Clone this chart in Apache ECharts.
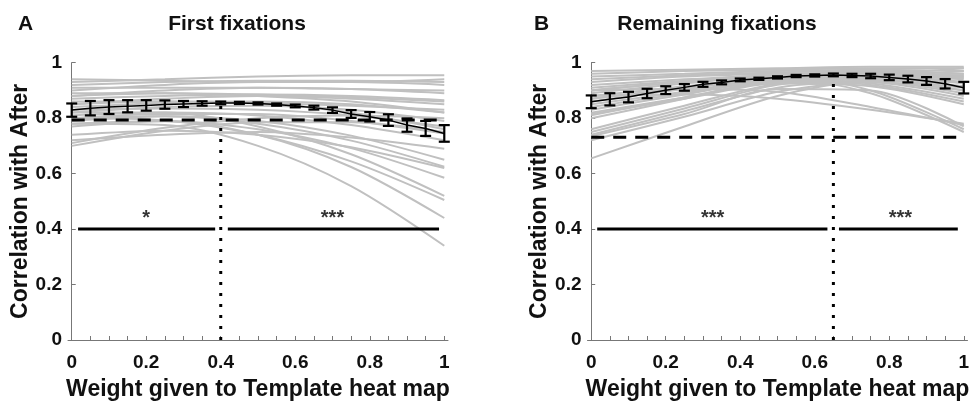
<!DOCTYPE html>
<html><head><meta charset="utf-8">
<script src="https://cdn.jsdelivr.net/npm/echarts@6/dist/echarts.min.js"></script>
<style>html,body{margin:0;padding:0;background:#fff}#c{width:973px;height:403px}</style>
</head><body><div id="c"></div>
<script>
// ---------- data ----------
const curveX = [0, 0.25, 0.5, 0.75, 1];
const grayA = [
  [0.93, 0.94, 0.95, 0.955, 0.955],
  [0.94, 0.935, 0.93, 0.93, 0.94],
  [0.92, 0.93, 0.935, 0.935, 0.93],
  [0.90, 0.92, 0.93, 0.93, 0.92],
  [0.91, 0.91, 0.91, 0.905, 0.90],
  [0.88, 0.90, 0.91, 0.905, 0.89],
  [0.89, 0.89, 0.885, 0.875, 0.86],
  [0.87, 0.88, 0.885, 0.88, 0.865],
  [0.85, 0.87, 0.88, 0.87, 0.85],
  [0.86, 0.86, 0.855, 0.845, 0.83],
  [0.84, 0.855, 0.86, 0.85, 0.82],
  [0.82, 0.84, 0.845, 0.83, 0.79],
  [0.83, 0.835, 0.83, 0.81, 0.77],
  [0.80, 0.815, 0.815, 0.79, 0.745],
  [0.81, 0.82, 0.81, 0.775, 0.72],
  [0.79, 0.807, 0.79, 0.737, 0.65],
  [0.80, 0.807, 0.78, 0.719, 0.625],
  [0.78, 0.79, 0.76, 0.692, 0.585],
  [0.70, 0.755, 0.785, 0.785, 0.75],
  [0.71, 0.765, 0.80, 0.81, 0.80],
  [0.72, 0.74, 0.75, 0.73, 0.69],
  [0.74, 0.755, 0.74, 0.695, 0.62],
  [0.82, 0.82, 0.77, 0.67, 0.52],
  [0.80, 0.792, 0.74, 0.644, 0.505],
  [0.77, 0.789, 0.74, 0.624, 0.44],
  [0.78, 0.775, 0.70, 0.555, 0.34],
  [0.85, 0.86, 0.855, 0.82, 0.76],
  [0.88, 0.89, 0.88, 0.86, 0.82]
];
const grayB = [
  [0.97, 0.975, 0.98, 0.985, 0.985],
  [0.96, 0.97, 0.975, 0.98, 0.98],
  [0.95, 0.96, 0.97, 0.975, 0.97],
  [0.94, 0.955, 0.965, 0.97, 0.96],
  [0.93, 0.95, 0.96, 0.965, 0.95],
  [0.92, 0.94, 0.955, 0.96, 0.945],
  [0.91, 0.935, 0.955, 0.955, 0.94],
  [0.90, 0.93, 0.95, 0.955, 0.93],
  [0.89, 0.925, 0.95, 0.95, 0.925],
  [0.88, 0.915, 0.945, 0.945, 0.915],
  [0.87, 0.91, 0.945, 0.94, 0.91],
  [0.86, 0.905, 0.94, 0.94, 0.90],
  [0.85, 0.895, 0.94, 0.935, 0.89],
  [0.84, 0.89, 0.935, 0.93, 0.88],
  [0.83, 0.885, 0.935, 0.925, 0.87],
  [0.82, 0.875, 0.93, 0.92, 0.86],
  [0.815, 0.87, 0.925, 0.915, 0.85],
  [0.90, 0.905, 0.895, 0.84, 0.775],
  [0.88, 0.885, 0.87, 0.83, 0.78],
  [0.90, 0.93, 0.95, 0.90, 0.76],
  [0.87, 0.91, 0.945, 0.89, 0.75],
  [0.76, 0.845, 0.925, 0.95, 0.96],
  [0.75, 0.835, 0.92, 0.94, 0.93],
  [0.74, 0.825, 0.91, 0.93, 0.90],
  [0.735, 0.815, 0.905, 0.90, 0.77],
  [0.72, 0.805, 0.895, 0.935, 0.95],
  [0.655, 0.77, 0.88, 0.94, 0.955],
  [0.80, 0.87, 0.94, 0.95, 0.97],
  [0.81, 0.875, 0.935, 0.955, 0.98]
];
const meanX = [0,0.05,0.1,0.15,0.2,0.25,0.3,0.35,0.4,0.45,0.5,0.55,0.6,0.65,0.7,0.75,0.8,0.85,0.9,0.95,1];
const meanA = [0.829,0.836,0.840,0.843,0.846,0.849,0.851,0.853,0.855,0.855,0.853,0.849,0.844,0.838,0.829,0.815,0.805,0.793,0.775,0.763,0.745];
const errA  = [0.024,0.026,0.025,0.022,0.019,0.015,0.011,0.008,0.005,0.004,0.004,0.004,0.005,0.007,0.010,0.014,0.017,0.021,0.024,0.027,0.030];
const meanB = [0.859,0.868,0.876,0.889,0.901,0.911,0.922,0.929,0.938,0.942,0.947,0.952,0.954,0.956,0.954,0.952,0.947,0.941,0.934,0.924,0.910];
const errB  = [0.023,0.022,0.019,0.017,0.014,0.012,0.009,0.007,0.005,0.004,0.004,0.004,0.004,0.005,0.006,0.008,0.010,0.012,0.014,0.017,0.021];
const baselineA = 0.793;
const baselineB = 0.731;
const peakA = [0.4, 0.855];
const peakB = [0.65, 0.956];
const sigY = 0.4;
const sigA = [[0.017, 0.385], [0.419, 0.986]];
const sigB = [[0.016, 0.634], [0.665, 0.984]];
const starY = 0.44;
const starsA = [[0.2, '*'], [0.70, '***']];
const starsB = [[0.326, '***'], [0.83, '***']];
const xLabelTicks = [0, 0.2, 0.4, 0.6, 0.8, 1];
const xMinorTicks = [0,0.05,0.1,0.15,0.2,0.25,0.3,0.35,0.4,0.45,0.5,0.55,0.6,0.65,0.7,0.75,0.8,0.85,0.9,0.95,1];
const panelTitles = ['First fixations', 'Remaining fixations'];
const panelLetters = ['A', 'B'];
const xName = 'Weight given to Template heat map';
const yName = 'Correlation with After';

// ---------- chart ----------
const FONT = 'Liberation Sans, Arial, sans-serif';
const AX = '#777777';
const TXT = '#111111';
const panels = [
  {gray: grayA, mean: meanA, err: errA, base: baselineA, peak: peakA, sig: sigA, stars: starsA},
  {gray: grayB, mean: meanB, err: errB, base: baselineB, peak: peakB, sig: sigB, stars: starsB}
];
const gridLefts = [68, 587.5];

const grids = gridLefts.map(l => ({left: l, top: 62.7, width: 380, height: 277.3,
  containLabel: false, outerBoundsMode: 'none'}));
const xAxes = gridLefts.map((l, i) => ({
  type: 'value', gridIndex: i, min: -0.01, max: 1.01,
  axisLine: {show: true, lineStyle: {color: AX, width: 1}},
  axisTick: {show: true, inside: true, length: 4, customValues: xMinorTicks, lineStyle: {color: AX}},
  axisLabel: {customValues: xLabelTicks, fontSize: 19, fontWeight: 'bold', color: TXT, fontFamily: FONT, margin: 13},
  splitLine: {show: false},
  name: xName, nameLocation: 'middle', nameGap: 38,
  nameTextStyle: {fontSize: 23, fontWeight: 'bold', color: TXT, fontFamily: FONT}
}));
const yAxes = gridLefts.map((l, i) => ({
  type: 'value', gridIndex: i, min: 0, max: 1, interval: 0.2,
  axisLine: {show: true, lineStyle: {color: AX, width: 1}},
  axisTick: {show: true, inside: true, length: 4, lineStyle: {color: AX}},
  axisLabel: {fontSize: 19, fontWeight: 'bold', color: TXT, fontFamily: FONT, margin: 6},
  splitLine: {show: false},
  name: yName, nameLocation: 'middle', nameGap: 36, nameRotate: 90,
  nameTextStyle: {fontSize: 23, fontWeight: 'bold', color: TXT, fontFamily: FONT}
}));

const series = [];
panels.forEach((p, i) => {
  p.gray.forEach(vals => series.push({
    type: 'line', xAxisIndex: i, yAxisIndex: i, silent: true, z: 1,
    data: curveX.map((x, k) => [x, vals[k]]), smooth: 0.3,
    symbol: 'none', lineStyle: {color: '#c0c0c0', width: 2}
  }));
  series.push({
    type: 'line', xAxisIndex: i, yAxisIndex: i, silent: true, z: 2, symbol: 'none',
    data: [[0, p.base], [1, p.base]],
    lineStyle: {color: '#000', width: 3, type: [13, 9], cap: 'butt'}
  });
  series.push({
    type: 'line', xAxisIndex: i, yAxisIndex: i, silent: true, z: 3, symbol: 'none',
    data: [[p.peak[0], 0], [p.peak[0], p.peak[1]]],
    lineStyle: {color: '#000', width: 3, type: [3, 8], cap: 'butt'}
  });
  p.sig.forEach(s => series.push({
    type: 'line', xAxisIndex: i, yAxisIndex: i, silent: true, z: 2, symbol: 'none',
    data: [[s[0], sigY], [s[1], sigY]],
    lineStyle: {color: '#000', width: 3}
  }));
  series.push({
    type: 'scatter', xAxisIndex: i, yAxisIndex: i, silent: true, z: 5,
    symbolSize: 1, itemStyle: {color: 'rgba(0,0,0,0)'},
    data: p.stars.map(s => [s[0], starY, s[1]]),
    label: {show: true, position: 'inside', formatter: d => d.data[2],
      fontSize: 20, fontWeight: 'bold', color: '#000', fontFamily: FONT}
  });
  series.push({
    type: 'line', xAxisIndex: i, yAxisIndex: i, silent: true, z: 4, symbol: 'none',
    data: meanX.map((x, k) => [x, p.mean[k]]),
    lineStyle: {color: '#000', width: 1.5}
  });
  series.push({
    type: 'custom', xAxisIndex: i, yAxisIndex: i, silent: true, z: 5,
    data: meanX.map((x, k) => [x, p.mean[k], p.err[k]]),
    encode: {x: 0, y: 1},
    renderItem: (params, api) => {
      const x = api.value(0), m = api.value(1), e = api.value(2);
      const t = api.coord([x, m + e]), b = api.coord([x, m - e]);
      const hw = 5.5;
      const st = {stroke: '#000', lineWidth: 2.2};
      return {type: 'group', children: [
        {type: 'line', shape: {x1: t[0], y1: t[1], x2: b[0], y2: b[1]}, style: st},
        {type: 'line', shape: {x1: t[0] - hw, y1: t[1], x2: t[0] + hw, y2: t[1]}, style: st},
        {type: 'line', shape: {x1: b[0] - hw, y1: b[1], x2: b[0] + hw, y2: b[1]}, style: st}
      ]};
    }
  });
});

const tStyle = {fontSize: 21, fontWeight: 'bold', color: TXT, fontFamily: FONT};
const titles = [
  {text: panelLetters[0], left: 13, top: 9, textStyle: tStyle},
  {text: panelTitles[0], left: 232, top: 9, textAlign: 'center', textStyle: tStyle},
  {text: panelLetters[1], left: 529, top: 9, textStyle: tStyle},
  {text: panelTitles[1], left: 712, top: 9, textAlign: 'center', textStyle: tStyle}
];

const chart = echarts.init(document.getElementById('c'), null, {renderer: 'canvas'});
chart.setOption({
  animation: false, backgroundColor: '#fff',
  title: titles, grid: grids, xAxis: xAxes, yAxis: yAxes, series: series
});
</script></body></html>
